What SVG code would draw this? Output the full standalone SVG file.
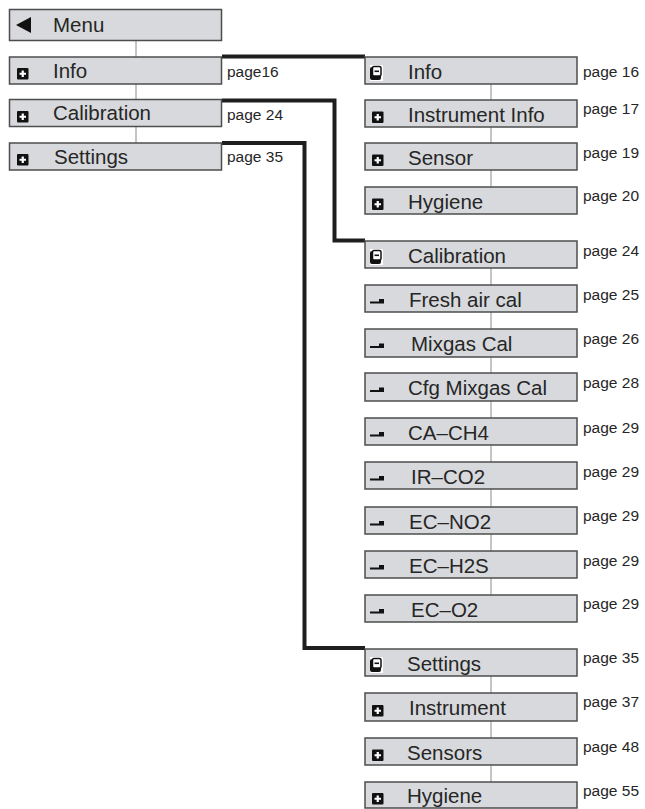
<svg xmlns="http://www.w3.org/2000/svg" width="645" height="809" viewBox="0 0 645 809">
<style>
.box{fill:#d7d9dc;stroke:#4d4d4d;stroke-width:1.5}
.lbl{font-family:"Liberation Sans",Arial,sans-serif;font-size:20.5px;fill:#262626}
.pg{font-family:"Liberation Sans",Arial,sans-serif;font-size:15.5px;fill:#262626}
.thin{stroke:#8a8a8a;stroke-width:1;fill:none}
.thick{stroke:#1e1e1e;stroke-width:4;fill:none}
</style>
<defs>
<g id="plus"><rect x="0" y="0" width="11.5" height="11.5" rx="1" fill="#111"/><path d="M2.5 5.75H9M5.75 2.5V9" stroke="#fff" stroke-width="2.2"/></g>
<g id="minus"><rect x="0" y="-1" width="13" height="16" fill="#fff"/><rect x="0" y="1" width="11" height="13" rx="2" fill="#111"/><rect x="2.5" y="0.5" width="8.5" height="9.5" rx="1.5" fill="#fff" stroke="#111" stroke-width="1.5"/><path d="M4.5 5.3H9" stroke="#111" stroke-width="1.6"/></g>
<path id="dash" d="M0 2.5H9V0H14V4.5H0Z" fill="#111"/>
</defs>
<g id="connectors">
<path class="thin" d="M136 41V57M136 84V99M136 127V143"/>
<path class="thin" d="M491 84V100M491 127V143M491 170V187"/>
<path class="thin" d="M491 268V285M491 312V329M491 357V373M491 401V418M491 445V462M491 489V507M491 534V551M491 578V595"/>
<path class="thin" d="M491 676V693M491 721V738M491 765V782"/>
<path class="thick" d="M222 56.5H365"/>
<path class="thick" d="M222 100.5H334.5V240.5H365"/>
<path class="thick" d="M222 143H304.5V648H365"/>
</g>
<g id="menu"><rect class="box" x="9.5" y="9.5" width="212" height="31"/><path d="M16 25L31 17V33Z" fill="#111"/><text class="lbl" x="53" y="32">Menu</text></g>
<g id="l-info"><rect class="box" x="9.5" y="57" width="212" height="27"/><use href="#plus" x="17" y="68"/><text class="lbl" x="53" y="77.5">Info</text><text class="pg" x="227" y="77">page16</text></g>
<g id="l-cal"><rect class="box" x="9.5" y="99.5" width="212" height="27"/><use href="#plus" x="17" y="111"/><text class="lbl" x="53" y="120">Calibration</text><text class="pg" x="227" y="120">page 24</text></g>
<g id="l-set"><rect class="box" x="9.5" y="143" width="212" height="27"/><use href="#plus" x="17" y="154"/><text class="lbl" x="54" y="163.5">Settings</text><text class="pg" x="227" y="162">page 35</text></g>

<g id="r-info"><rect class="box" x="365" y="57" width="212" height="27"/><use href="#minus" x="370" y="66"/><text class="lbl" x="408" y="79">Info</text><text class="pg" x="583" y="77">page 16</text></g>
<g id="r-instinfo"><rect class="box" x="365" y="100" width="212" height="27"/><use href="#plus" x="372" y="111.5"/><text class="lbl" x="408" y="122">Instrument Info</text><text class="pg" x="583" y="114">page 17</text></g>
<g id="r-sensor"><rect class="box" x="365" y="143" width="212" height="27"/><use href="#plus" x="372" y="154.5"/><text class="lbl" x="408" y="165">Sensor</text><text class="pg" x="583" y="158">page 19</text></g>
<g id="r-hyg1"><rect class="box" x="365" y="187" width="212" height="27"/><use href="#plus" x="372" y="198.5"/><text class="lbl" x="408" y="209">Hygiene</text><text class="pg" x="583" y="201">page 20</text></g>

<g id="r-cal"><rect class="box" x="365" y="241" width="212" height="27"/><use href="#minus" x="370" y="250"/><text class="lbl" x="408" y="263">Calibration</text><text class="pg" x="583" y="256">page 24</text></g>
<g id="r-fresh"><rect class="box" x="365" y="285" width="212" height="27"/><use href="#dash" x="370" y="299"/><text class="lbl" x="409" y="307">Fresh air cal</text><text class="pg" x="583" y="300">page 25</text></g>
<g id="r-mix"><rect class="box" x="365" y="329" width="212" height="28"/><use href="#dash" x="370" y="343.5"/><text class="lbl" x="411" y="351">Mixgas Cal</text><text class="pg" x="583" y="344">page 26</text></g>
<g id="r-cfg"><rect class="box" x="365" y="373" width="212" height="28"/><use href="#dash" x="370" y="387.5"/><text class="lbl" x="408" y="395">Cfg Mixgas Cal</text><text class="pg" x="583" y="388">page 28</text></g>
<g id="r-ch4"><rect class="box" x="365" y="418" width="212" height="27"/><use href="#dash" x="370" y="432"/><text class="lbl" x="408" y="440">CA–CH4</text><text class="pg" x="583" y="433">page 29</text></g>
<g id="r-co2"><rect class="box" x="365" y="462" width="212" height="27"/><use href="#dash" x="370" y="476"/><text class="lbl" x="411" y="484">IR–CO2</text><text class="pg" x="583" y="477">page 29</text></g>
<g id="r-no2"><rect class="box" x="365" y="507" width="212" height="27"/><use href="#dash" x="370" y="521"/><text class="lbl" x="409" y="529">EC–NO2</text><text class="pg" x="583" y="521">page 29</text></g>
<g id="r-h2s"><rect class="box" x="365" y="551" width="212" height="27"/><use href="#dash" x="370" y="565"/><text class="lbl" x="409" y="573">EC–H2S</text><text class="pg" x="583" y="566">page 29</text></g>
<g id="r-o2"><rect class="box" x="365" y="595" width="212" height="27"/><use href="#dash" x="370" y="609"/><text class="lbl" x="411" y="617">EC–O2</text><text class="pg" x="583" y="609">page 29</text></g>

<g id="r-set"><rect class="box" x="365" y="649" width="212" height="27"/><use href="#minus" x="370" y="658"/><text class="lbl" x="407" y="671">Settings</text><text class="pg" x="583" y="663">page 35</text></g>
<g id="r-inst"><rect class="box" x="365" y="693" width="212" height="28"/><use href="#plus" x="372" y="705"/><text class="lbl" x="409" y="715">Instrument</text><text class="pg" x="583" y="707">page 37</text></g>
<g id="r-sensors"><rect class="box" x="365" y="738" width="212" height="27"/><use href="#plus" x="372" y="749.5"/><text class="lbl" x="407" y="760">Sensors</text><text class="pg" x="583" y="752">page 48</text></g>
<g id="r-hyg2"><rect class="box" x="365" y="782" width="212" height="26"/><use href="#plus" x="372" y="793"/><text class="lbl" x="407" y="803">Hygiene</text><text class="pg" x="583" y="796">page 55</text></g>
</svg>
